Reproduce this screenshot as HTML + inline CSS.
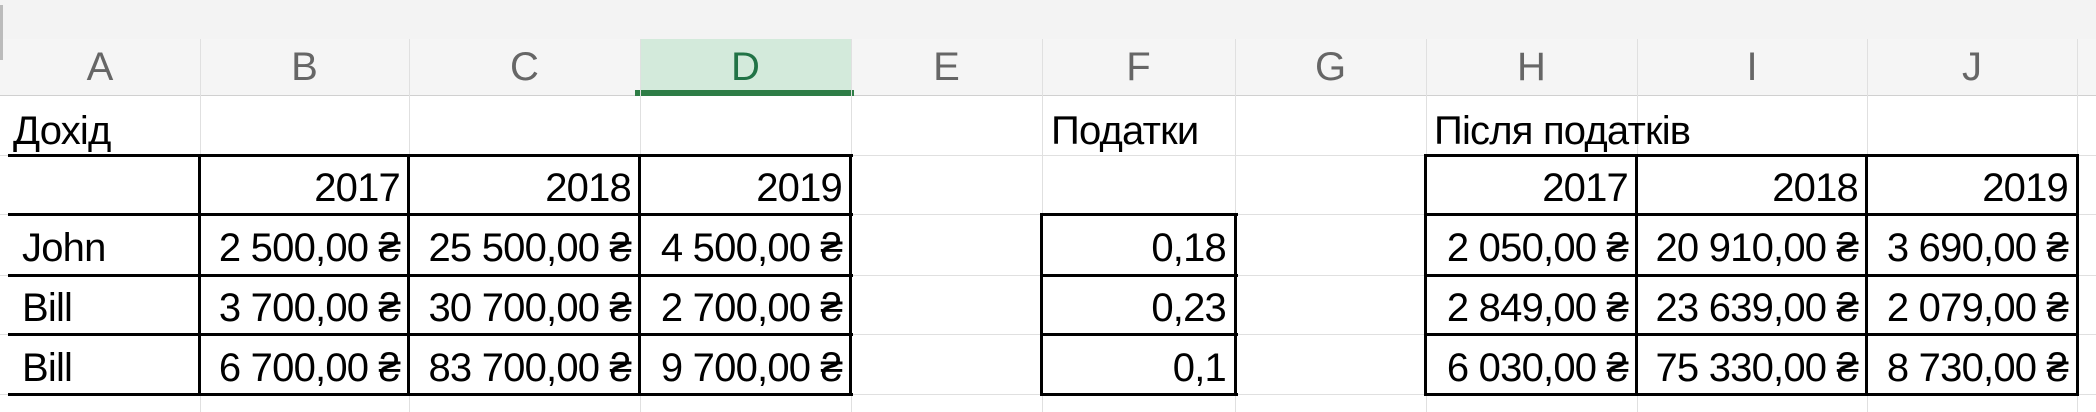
<!DOCTYPE html>
<html><head><meta charset="utf-8">
<style>
body{margin:0;width:2096px;height:412px;overflow:hidden;background:#fff;position:relative;font-family:"Liberation Sans","DejaVu Sans",sans-serif;}
.abs{position:absolute;}
.vl{position:absolute;width:1px;background:#e0e0e0;}
.hl{position:absolute;height:1px;background:#e0e0e0;}
.bh{position:absolute;height:3px;background:#000;}
.bv{position:absolute;width:3px;background:#000;}
.t{position:absolute;font-size:40px;line-height:40px;color:#000;white-space:nowrap;letter-spacing:-0.8px;}
.r{text-align:right;}
.h{position:absolute;top:47px;font-size:40px;line-height:40px;color:#666;text-align:center;white-space:nowrap;}
</style></head><body>
<div class="abs" style="left:0;top:0;width:2096px;height:39px;background:#f3f3f3"></div>
<div class="abs" style="left:0;top:39px;width:2096px;height:57px;background:#f5f5f5;border-bottom:1px solid #d0d0d0;box-sizing:border-box"></div>
<div class="abs" style="left:0;top:5px;width:3px;height:55px;background:#bbb"></div>
<div class="abs" style="left:640px;top:39px;width:211px;height:57px;background:#d3eadb"></div>
<div class="abs" style="left:635px;top:90px;width:219px;height:6px;background:#2e7d46"></div>

<div class="vl" style="left:200px;top:39px;height:373px"></div>
<div class="vl" style="left:409px;top:39px;height:373px"></div>
<div class="vl" style="left:640px;top:39px;height:373px"></div>
<div class="vl" style="left:851px;top:39px;height:373px"></div>
<div class="vl" style="left:1042px;top:39px;height:373px"></div>
<div class="vl" style="left:1235px;top:39px;height:373px"></div>
<div class="vl" style="left:1426px;top:39px;height:373px"></div>
<div class="vl" style="left:1637px;top:39px;height:373px"></div>
<div class="vl" style="left:1867px;top:39px;height:373px"></div>
<div class="vl" style="left:2077px;top:39px;height:373px"></div>
<div class="hl" style="left:0;top:155px;width:2096px"></div>
<div class="hl" style="left:0;top:214px;width:2096px"></div>
<div class="hl" style="left:0;top:275px;width:2096px"></div>
<div class="hl" style="left:0;top:334px;width:2096px"></div>
<div class="hl" style="left:0;top:394px;width:2096px"></div>

<div class="h" style="left:0;width:200px">A</div>
<div class="h" style="left:200px;width:209px">B</div>
<div class="h" style="left:409px;width:231px">C</div>
<div class="h" style="left:640px;width:211px;color:#217346">D</div>
<div class="h" style="left:851px;width:191px">E</div>
<div class="h" style="left:1042px;width:193px">F</div>
<div class="h" style="left:1235px;width:191px">G</div>
<div class="h" style="left:1426px;width:211px">H</div>
<div class="h" style="left:1637px;width:230px">I</div>
<div class="h" style="left:1867px;width:210px">J</div>

<div class="bh" style="left:8px;top:154px;width:845px"></div>
<div class="bh" style="left:8px;top:213px;width:845px"></div>
<div class="bh" style="left:8px;top:274px;width:845px"></div>
<div class="bh" style="left:8px;top:333px;width:845px"></div>
<div class="bh" style="left:8px;top:393px;width:845px"></div>
<div class="bv" style="left:198px;top:154px;height:242px"></div>
<div class="bv" style="left:407px;top:154px;height:242px"></div>
<div class="bv" style="left:638px;top:154px;height:242px"></div>
<div class="bv" style="left:849px;top:154px;height:242px"></div>

<div class="bh" style="left:1040px;top:213px;width:198px"></div>
<div class="bh" style="left:1040px;top:274px;width:198px"></div>
<div class="bh" style="left:1040px;top:333px;width:198px"></div>
<div class="bh" style="left:1040px;top:393px;width:198px"></div>
<div class="bv" style="left:1040px;top:213px;height:183px"></div>
<div class="bv" style="left:1234px;top:213px;height:183px"></div>

<div class="bh" style="left:1424px;top:154px;width:655px"></div>
<div class="bh" style="left:1424px;top:213px;width:655px"></div>
<div class="bh" style="left:1424px;top:274px;width:655px"></div>
<div class="bh" style="left:1424px;top:333px;width:655px"></div>
<div class="bh" style="left:1424px;top:393px;width:655px"></div>
<div class="bv" style="left:1424px;top:154px;height:242px"></div>
<div class="bv" style="left:1635px;top:154px;height:242px"></div>
<div class="bv" style="left:1865px;top:154px;height:242px"></div>
<div class="bv" style="left:2076px;top:154px;height:242px"></div>

<div class="t" style="left:13px;top:111px">Дохід</div>
<div class="t" style="left:1051px;top:111px">Податки</div>
<div class="t" style="left:1434px;top:111px">Після податків</div>

<div class="t r" style="left:200px;width:200px;top:168px">2017</div>
<div class="t r" style="left:409px;width:222px;top:168px">2018</div>
<div class="t r" style="left:640px;width:202px;top:168px">2019</div>
<div class="t r" style="left:1426px;width:202px;top:168px">2017</div>
<div class="t r" style="left:1637px;width:221px;top:168px">2018</div>
<div class="t r" style="left:1867px;width:201px;top:168px">2019</div>

<div class="t" style="left:22px;top:228px">John</div>
<div class="t" style="left:22px;top:288px">Bill</div>
<div class="t" style="left:22px;top:348px">Bill</div>

<div class="t r" style="left:200px;width:200px;top:228px">2&nbsp;500,00&nbsp;₴</div>
<div class="t r" style="left:409px;width:222px;top:228px">25&nbsp;500,00&nbsp;₴</div>
<div class="t r" style="left:640px;width:202px;top:228px">4&nbsp;500,00&nbsp;₴</div>
<div class="t r" style="left:200px;width:200px;top:288px">3&nbsp;700,00&nbsp;₴</div>
<div class="t r" style="left:409px;width:222px;top:288px">30&nbsp;700,00&nbsp;₴</div>
<div class="t r" style="left:640px;width:202px;top:288px">2&nbsp;700,00&nbsp;₴</div>
<div class="t r" style="left:200px;width:200px;top:348px">6&nbsp;700,00&nbsp;₴</div>
<div class="t r" style="left:409px;width:222px;top:348px">83&nbsp;700,00&nbsp;₴</div>
<div class="t r" style="left:640px;width:202px;top:348px">9&nbsp;700,00&nbsp;₴</div>

<div class="t r" style="left:1042px;width:184px;top:228px">0,18</div>
<div class="t r" style="left:1042px;width:184px;top:288px">0,23</div>
<div class="t r" style="left:1042px;width:184px;top:348px">0,1</div>

<div class="t r" style="left:1426px;width:202px;top:228px">2&nbsp;050,00&nbsp;₴</div>
<div class="t r" style="left:1637px;width:221px;top:228px">20&nbsp;910,00&nbsp;₴</div>
<div class="t r" style="left:1867px;width:201px;top:228px">3&nbsp;690,00&nbsp;₴</div>
<div class="t r" style="left:1426px;width:202px;top:288px">2&nbsp;849,00&nbsp;₴</div>
<div class="t r" style="left:1637px;width:221px;top:288px">23&nbsp;639,00&nbsp;₴</div>
<div class="t r" style="left:1867px;width:201px;top:288px">2&nbsp;079,00&nbsp;₴</div>
<div class="t r" style="left:1426px;width:202px;top:348px">6&nbsp;030,00&nbsp;₴</div>
<div class="t r" style="left:1637px;width:221px;top:348px">75&nbsp;330,00&nbsp;₴</div>
<div class="t r" style="left:1867px;width:201px;top:348px">8&nbsp;730,00&nbsp;₴</div>
</body></html>
